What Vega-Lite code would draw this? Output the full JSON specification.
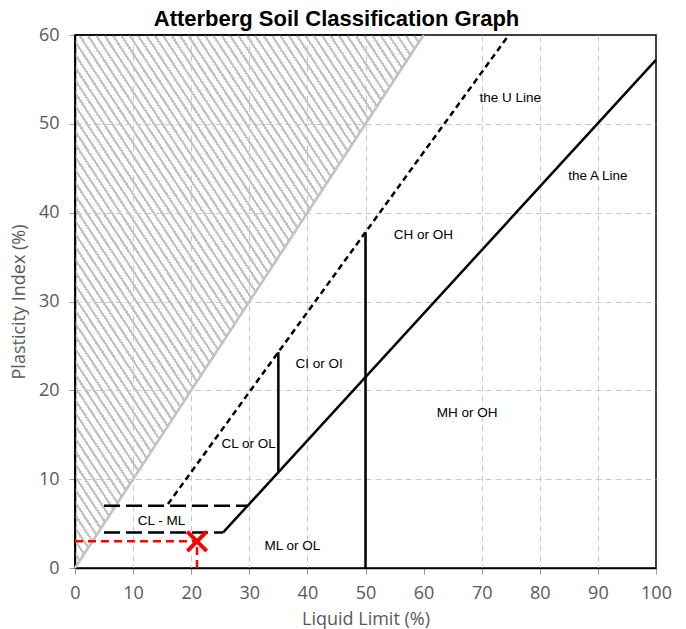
{
"$schema":"https://vega.github.io/schema/vega-lite/v6.json",
"width":581,"height":533,
"autosize":{"type":"none"},
"padding":{"left":75,"top":35,"right":30,"bottom":61},
"background":"white",
"title":{"text":"Atterberg Soil Classification Graph","font":"Liberation Sans","fontSize":22,"fontWeight":"bold","color":"black","offset":6,"anchor":"middle","dx":-29,"dy":11},
"config":{
 "view":{"stroke":"black","strokeWidth":1.5},
 "axis":{"grid":true,"gridDash":[6,4],"gridColor":"#c8c8c8","gridWidth":1,"gridOpacity":{"condition":{"test":"datum.value===0||datum.value===100||datum.value===60","value":0},"value":1},"domainColor":"black","domainWidth":1.5,"tickColor":"#999999","tickSize":6,"labelFont":"Open Sans","labelFontSize":18,"labelColor":"#595959","labelFlush":false,"titleFont":"Open Sans","titleFontSize":18,"titleColor":"#595959","titleFontWeight":"normal","labelPadding":10}
},
"layer":[
{"data":{"values":[{"LL":0,"PI":0,"T":60},{"LL":60,"PI":60,"T":60}]},
 "mark":{"type":"area","stroke":"black","strokeWidth":1.5,"strokeJoin":"bevel","fill":{"gradient":"linear","x1":0,"y1":1,"x2":1,"y2":0,"stops":[
{"offset":0,"color":"#c4c4c4"},{"offset":0.004,"color":"#c4c4c4"},{"offset":0.004,"color":"transparent"},{"offset":0.012,"color":"transparent"},
{"offset":0.012,"color":"#c4c4c4"},{"offset":0.016,"color":"#c4c4c4"},{"offset":0.016,"color":"transparent"},{"offset":0.024,"color":"transparent"},
{"offset":0.024,"color":"#c4c4c4"},{"offset":0.028,"color":"#c4c4c4"},{"offset":0.028,"color":"transparent"},{"offset":0.036,"color":"transparent"},
{"offset":0.036,"color":"#c4c4c4"},{"offset":0.04,"color":"#c4c4c4"},{"offset":0.04,"color":"transparent"},{"offset":0.048,"color":"transparent"},
{"offset":0.048,"color":"#c4c4c4"},{"offset":0.052,"color":"#c4c4c4"},{"offset":0.052,"color":"transparent"},{"offset":0.06,"color":"transparent"},
{"offset":0.06,"color":"#c4c4c4"},{"offset":0.064,"color":"#c4c4c4"},{"offset":0.064,"color":"transparent"},{"offset":0.072,"color":"transparent"},
{"offset":0.072,"color":"#c4c4c4"},{"offset":0.076,"color":"#c4c4c4"},{"offset":0.076,"color":"transparent"},{"offset":0.084,"color":"transparent"},
{"offset":0.084,"color":"#c4c4c4"},{"offset":0.088,"color":"#c4c4c4"},{"offset":0.088,"color":"transparent"},{"offset":0.096,"color":"transparent"},
{"offset":0.096,"color":"#c4c4c4"},{"offset":0.1,"color":"#c4c4c4"},{"offset":0.1,"color":"transparent"},{"offset":0.108,"color":"transparent"},
{"offset":0.108,"color":"#c4c4c4"},{"offset":0.112,"color":"#c4c4c4"},{"offset":0.112,"color":"transparent"},{"offset":0.12,"color":"transparent"},
{"offset":0.12,"color":"#c4c4c4"},{"offset":0.124,"color":"#c4c4c4"},{"offset":0.124,"color":"transparent"},{"offset":0.132,"color":"transparent"},
{"offset":0.132,"color":"#c4c4c4"},{"offset":0.136,"color":"#c4c4c4"},{"offset":0.136,"color":"transparent"},{"offset":0.144,"color":"transparent"},
{"offset":0.144,"color":"#c4c4c4"},{"offset":0.148,"color":"#c4c4c4"},{"offset":0.148,"color":"transparent"},{"offset":0.156,"color":"transparent"},
{"offset":0.156,"color":"#c4c4c4"},{"offset":0.16,"color":"#c4c4c4"},{"offset":0.16,"color":"transparent"},{"offset":0.168,"color":"transparent"},
{"offset":0.168,"color":"#c4c4c4"},{"offset":0.172,"color":"#c4c4c4"},{"offset":0.172,"color":"transparent"},{"offset":0.18,"color":"transparent"},
{"offset":0.18,"color":"#c4c4c4"},{"offset":0.184,"color":"#c4c4c4"},{"offset":0.184,"color":"transparent"},{"offset":0.192,"color":"transparent"},
{"offset":0.192,"color":"#c4c4c4"},{"offset":0.196,"color":"#c4c4c4"},{"offset":0.196,"color":"transparent"},{"offset":0.204,"color":"transparent"},
{"offset":0.204,"color":"#c4c4c4"},{"offset":0.208,"color":"#c4c4c4"},{"offset":0.208,"color":"transparent"},{"offset":0.216,"color":"transparent"},
{"offset":0.216,"color":"#c4c4c4"},{"offset":0.22,"color":"#c4c4c4"},{"offset":0.22,"color":"transparent"},{"offset":0.228,"color":"transparent"},
{"offset":0.228,"color":"#c4c4c4"},{"offset":0.232,"color":"#c4c4c4"},{"offset":0.232,"color":"transparent"},{"offset":0.24,"color":"transparent"},
{"offset":0.24,"color":"#c4c4c4"},{"offset":0.244,"color":"#c4c4c4"},{"offset":0.244,"color":"transparent"},{"offset":0.252,"color":"transparent"},
{"offset":0.252,"color":"#c4c4c4"},{"offset":0.256,"color":"#c4c4c4"},{"offset":0.256,"color":"transparent"},{"offset":0.264,"color":"transparent"},
{"offset":0.264,"color":"#c4c4c4"},{"offset":0.268,"color":"#c4c4c4"},{"offset":0.268,"color":"transparent"},{"offset":0.276,"color":"transparent"},
{"offset":0.276,"color":"#c4c4c4"},{"offset":0.28,"color":"#c4c4c4"},{"offset":0.28,"color":"transparent"},{"offset":0.288,"color":"transparent"},
{"offset":0.288,"color":"#c4c4c4"},{"offset":0.292,"color":"#c4c4c4"},{"offset":0.292,"color":"transparent"},{"offset":0.3,"color":"transparent"},
{"offset":0.3,"color":"#c4c4c4"},{"offset":0.304,"color":"#c4c4c4"},{"offset":0.304,"color":"transparent"},{"offset":0.312,"color":"transparent"},
{"offset":0.312,"color":"#c4c4c4"},{"offset":0.316,"color":"#c4c4c4"},{"offset":0.316,"color":"transparent"},{"offset":0.324,"color":"transparent"},
{"offset":0.324,"color":"#c4c4c4"},{"offset":0.328,"color":"#c4c4c4"},{"offset":0.328,"color":"transparent"},{"offset":0.336,"color":"transparent"},
{"offset":0.336,"color":"#c4c4c4"},{"offset":0.34,"color":"#c4c4c4"},{"offset":0.34,"color":"transparent"},{"offset":0.348,"color":"transparent"},
{"offset":0.348,"color":"#c4c4c4"},{"offset":0.352,"color":"#c4c4c4"},{"offset":0.352,"color":"transparent"},{"offset":0.36,"color":"transparent"},
{"offset":0.36,"color":"#c4c4c4"},{"offset":0.364,"color":"#c4c4c4"},{"offset":0.364,"color":"transparent"},{"offset":0.372,"color":"transparent"},
{"offset":0.372,"color":"#c4c4c4"},{"offset":0.376,"color":"#c4c4c4"},{"offset":0.376,"color":"transparent"},{"offset":0.384,"color":"transparent"},
{"offset":0.384,"color":"#c4c4c4"},{"offset":0.388,"color":"#c4c4c4"},{"offset":0.388,"color":"transparent"},{"offset":0.396,"color":"transparent"},
{"offset":0.396,"color":"#c4c4c4"},{"offset":0.4,"color":"#c4c4c4"},{"offset":0.4,"color":"transparent"},{"offset":0.408,"color":"transparent"},
{"offset":0.408,"color":"#c4c4c4"},{"offset":0.412,"color":"#c4c4c4"},{"offset":0.412,"color":"transparent"},{"offset":0.42,"color":"transparent"},
{"offset":0.42,"color":"#c4c4c4"},{"offset":0.424,"color":"#c4c4c4"},{"offset":0.424,"color":"transparent"},{"offset":0.432,"color":"transparent"},
{"offset":0.432,"color":"#c4c4c4"},{"offset":0.436,"color":"#c4c4c4"},{"offset":0.436,"color":"transparent"},{"offset":0.444,"color":"transparent"},
{"offset":0.444,"color":"#c4c4c4"},{"offset":0.448,"color":"#c4c4c4"},{"offset":0.448,"color":"transparent"},{"offset":0.456,"color":"transparent"},
{"offset":0.456,"color":"#c4c4c4"},{"offset":0.46,"color":"#c4c4c4"},{"offset":0.46,"color":"transparent"},{"offset":0.468,"color":"transparent"},
{"offset":0.468,"color":"#c4c4c4"},{"offset":0.472,"color":"#c4c4c4"},{"offset":0.472,"color":"transparent"},{"offset":0.48,"color":"transparent"},
{"offset":0.48,"color":"#c4c4c4"},{"offset":0.484,"color":"#c4c4c4"},{"offset":0.484,"color":"transparent"},{"offset":0.492,"color":"transparent"},
{"offset":0.492,"color":"#c4c4c4"},{"offset":0.496,"color":"#c4c4c4"},{"offset":0.496,"color":"transparent"},{"offset":0.504,"color":"transparent"},
{"offset":0.504,"color":"#c4c4c4"},{"offset":0.508,"color":"#c4c4c4"},{"offset":0.508,"color":"transparent"},{"offset":0.516,"color":"transparent"},
{"offset":0.516,"color":"#c4c4c4"},{"offset":0.52,"color":"#c4c4c4"},{"offset":0.52,"color":"transparent"},{"offset":0.528,"color":"transparent"},
{"offset":0.528,"color":"#c4c4c4"},{"offset":0.532,"color":"#c4c4c4"},{"offset":0.532,"color":"transparent"},{"offset":0.54,"color":"transparent"},
{"offset":0.54,"color":"#c4c4c4"},{"offset":0.544,"color":"#c4c4c4"},{"offset":0.544,"color":"transparent"},{"offset":0.552,"color":"transparent"},
{"offset":0.552,"color":"#c4c4c4"},{"offset":0.556,"color":"#c4c4c4"},{"offset":0.556,"color":"transparent"},{"offset":0.564,"color":"transparent"},
{"offset":0.564,"color":"#c4c4c4"},{"offset":0.568,"color":"#c4c4c4"},{"offset":0.568,"color":"transparent"},{"offset":0.576,"color":"transparent"},
{"offset":0.576,"color":"#c4c4c4"},{"offset":0.58,"color":"#c4c4c4"},{"offset":0.58,"color":"transparent"},{"offset":0.588,"color":"transparent"},
{"offset":0.588,"color":"#c4c4c4"},{"offset":0.592,"color":"#c4c4c4"},{"offset":0.592,"color":"transparent"},{"offset":0.6,"color":"transparent"},
{"offset":0.6,"color":"#c4c4c4"},{"offset":0.604,"color":"#c4c4c4"},{"offset":0.604,"color":"transparent"},{"offset":0.612,"color":"transparent"},
{"offset":0.612,"color":"#c4c4c4"},{"offset":0.616,"color":"#c4c4c4"},{"offset":0.616,"color":"transparent"},{"offset":0.624,"color":"transparent"},
{"offset":0.624,"color":"#c4c4c4"},{"offset":0.628,"color":"#c4c4c4"},{"offset":0.628,"color":"transparent"},{"offset":0.636,"color":"transparent"},
{"offset":0.636,"color":"#c4c4c4"},{"offset":0.64,"color":"#c4c4c4"},{"offset":0.64,"color":"transparent"},{"offset":0.648,"color":"transparent"},
{"offset":0.648,"color":"#c4c4c4"},{"offset":0.652,"color":"#c4c4c4"},{"offset":0.652,"color":"transparent"},{"offset":0.66,"color":"transparent"},
{"offset":0.66,"color":"#c4c4c4"},{"offset":0.664,"color":"#c4c4c4"},{"offset":0.664,"color":"transparent"},{"offset":0.672,"color":"transparent"},
{"offset":0.672,"color":"#c4c4c4"},{"offset":0.676,"color":"#c4c4c4"},{"offset":0.676,"color":"transparent"},{"offset":0.684,"color":"transparent"},
{"offset":0.684,"color":"#c4c4c4"},{"offset":0.688,"color":"#c4c4c4"},{"offset":0.688,"color":"transparent"},{"offset":0.696,"color":"transparent"},
{"offset":0.696,"color":"#c4c4c4"},{"offset":0.7,"color":"#c4c4c4"},{"offset":0.7,"color":"transparent"},{"offset":0.708,"color":"transparent"},
{"offset":0.708,"color":"#c4c4c4"},{"offset":0.712,"color":"#c4c4c4"},{"offset":0.712,"color":"transparent"},{"offset":0.72,"color":"transparent"},
{"offset":0.72,"color":"#c4c4c4"},{"offset":0.724,"color":"#c4c4c4"},{"offset":0.724,"color":"transparent"},{"offset":0.732,"color":"transparent"},
{"offset":0.732,"color":"#c4c4c4"},{"offset":0.736,"color":"#c4c4c4"},{"offset":0.736,"color":"transparent"},{"offset":0.744,"color":"transparent"},
{"offset":0.744,"color":"#c4c4c4"},{"offset":0.748,"color":"#c4c4c4"},{"offset":0.748,"color":"transparent"},{"offset":0.756,"color":"transparent"},
{"offset":0.756,"color":"#c4c4c4"},{"offset":0.76,"color":"#c4c4c4"},{"offset":0.76,"color":"transparent"},{"offset":0.768,"color":"transparent"},
{"offset":0.768,"color":"#c4c4c4"},{"offset":0.772,"color":"#c4c4c4"},{"offset":0.772,"color":"transparent"},{"offset":0.78,"color":"transparent"},
{"offset":0.78,"color":"#c4c4c4"},{"offset":0.784,"color":"#c4c4c4"},{"offset":0.784,"color":"transparent"},{"offset":0.792,"color":"transparent"},
{"offset":0.792,"color":"#c4c4c4"},{"offset":0.796,"color":"#c4c4c4"},{"offset":0.796,"color":"transparent"},{"offset":0.804,"color":"transparent"},
{"offset":0.804,"color":"#c4c4c4"},{"offset":0.808,"color":"#c4c4c4"},{"offset":0.808,"color":"transparent"},{"offset":0.816,"color":"transparent"},
{"offset":0.816,"color":"#c4c4c4"},{"offset":0.82,"color":"#c4c4c4"},{"offset":0.82,"color":"transparent"},{"offset":0.828,"color":"transparent"},
{"offset":0.828,"color":"#c4c4c4"},{"offset":0.832,"color":"#c4c4c4"},{"offset":0.832,"color":"transparent"},{"offset":0.84,"color":"transparent"},
{"offset":0.84,"color":"#c4c4c4"},{"offset":0.844,"color":"#c4c4c4"},{"offset":0.844,"color":"transparent"},{"offset":0.852,"color":"transparent"},
{"offset":0.852,"color":"#c4c4c4"},{"offset":0.856,"color":"#c4c4c4"},{"offset":0.856,"color":"transparent"},{"offset":0.864,"color":"transparent"},
{"offset":0.864,"color":"#c4c4c4"},{"offset":0.868,"color":"#c4c4c4"},{"offset":0.868,"color":"transparent"},{"offset":0.876,"color":"transparent"},
{"offset":0.876,"color":"#c4c4c4"},{"offset":0.88,"color":"#c4c4c4"},{"offset":0.88,"color":"transparent"},{"offset":0.888,"color":"transparent"},
{"offset":0.888,"color":"#c4c4c4"},{"offset":0.892,"color":"#c4c4c4"},{"offset":0.892,"color":"transparent"},{"offset":0.9,"color":"transparent"},
{"offset":0.9,"color":"#c4c4c4"},{"offset":0.904,"color":"#c4c4c4"},{"offset":0.904,"color":"transparent"},{"offset":0.912,"color":"transparent"},
{"offset":0.912,"color":"#c4c4c4"},{"offset":0.916,"color":"#c4c4c4"},{"offset":0.916,"color":"transparent"},{"offset":0.924,"color":"transparent"},
{"offset":0.924,"color":"#c4c4c4"},{"offset":0.928,"color":"#c4c4c4"},{"offset":0.928,"color":"transparent"},{"offset":0.936,"color":"transparent"},
{"offset":0.936,"color":"#c4c4c4"},{"offset":0.94,"color":"#c4c4c4"},{"offset":0.94,"color":"transparent"},{"offset":0.948,"color":"transparent"},
{"offset":0.948,"color":"#c4c4c4"},{"offset":0.952,"color":"#c4c4c4"},{"offset":0.952,"color":"transparent"},{"offset":0.96,"color":"transparent"},
{"offset":0.96,"color":"#c4c4c4"},{"offset":0.964,"color":"#c4c4c4"},{"offset":0.964,"color":"transparent"},{"offset":0.972,"color":"transparent"},
{"offset":0.972,"color":"#c4c4c4"},{"offset":0.976,"color":"#c4c4c4"},{"offset":0.976,"color":"transparent"},{"offset":0.984,"color":"transparent"},
{"offset":0.984,"color":"#c4c4c4"},{"offset":0.988,"color":"#c4c4c4"},{"offset":0.988,"color":"transparent"},{"offset":0.996,"color":"transparent"},
{"offset":0.996,"color":"#c4c4c4"},{"offset":1,"color":"#c4c4c4"}
 ]}},
 "encoding":{
  "x":{"field":"LL","type":"quantitative","scale":{"domain":[0,100],"nice":false},"axis":{"values":[0,10,20,30,40,50,60,70,80,90,100],"title":"Liquid Limit (%)","titlePadding":8}},
  "y":{"field":"PI","type":"quantitative","scale":{"domain":[0,60],"nice":false},"axis":{"values":[0,10,20,30,40,50,60],"title":"Plasticity Index (%)","titlePadding":10}},
  "y2":{"field":"T"}
 }},
{"data":{"values":[{"LL":0,"PI":0},{"LL":60,"PI":60}]},
 "mark":{"type":"line","color":"#c4c4c4","strokeWidth":2.5},
 "encoding":{"x":{"field":"LL","type":"quantitative"},"y":{"field":"PI","type":"quantitative"}}},
{"data":{"values":[{"id":"A","LL":25.5,"PI":4},{"id":"A","LL":100,"PI":57.2},{"id":"v35","LL":35,"PI":10.8},{"id":"v35","LL":35,"PI":24.3},{"id":"v50","LL":50,"PI":0},{"id":"v50","LL":50,"PI":37.8}]},
 "mark":{"type":"line","color":"black","strokeWidth":2.5},
 "encoding":{"x":{"field":"LL","type":"quantitative"},"y":{"field":"PI","type":"quantitative"},"detail":{"field":"id"}}},
{"data":{"values":[{"id":"d4","LL":5,"PI":4},{"id":"d4","LL":25.5,"PI":4},{"id":"d7","LL":5,"PI":7},{"id":"d7","LL":29.7,"PI":7}]},
 "mark":{"type":"line","color":"black","strokeWidth":2.5,"strokeDash":[16,6]},
 "encoding":{"x":{"field":"LL","type":"quantitative"},"y":{"field":"PI","type":"quantitative"},"detail":{"field":"id"}}},
{"data":{"values":[{"LL":16,"PI":7.2},{"LL":74.67,"PI":60}]},
 "mark":{"type":"line","color":"black","strokeWidth":2.5,"strokeDash":[6,4]},
 "encoding":{"x":{"field":"LL","type":"quantitative"},"y":{"field":"PI","type":"quantitative"}}},
{"data":{"values":[{"id":"h","LL":0,"PI":3},{"id":"h","LL":21,"PI":3},{"id":"v","LL":21,"PI":0},{"id":"v","LL":21,"PI":3}]},
 "mark":{"type":"line","color":"#ff0000","strokeWidth":2.5,"strokeDash":[8,5]},
 "encoding":{"x":{"field":"LL","type":"quantitative"},"y":{"field":"PI","type":"quantitative"},"detail":{"field":"id"}}},
{"data":{"values":[{"LL":21,"PI":3}]},
 "mark":{"type":"point","shape":"M-1,-1L1,1M-1,1L1,-1","size":380,"filled":false,"stroke":"#ff0000","strokeWidth":4,"opacity":1},
 "encoding":{"x":{"field":"LL","type":"quantitative"},"y":{"field":"PI","type":"quantitative"}}},
{"data":{"values":[
 {"LL":74.9,"PI":52.95,"label":"the U Line"},
 {"LL":90,"PI":44.1,"label":"the A Line"},
 {"LL":59.96,"PI":37.5,"label":"CH or OH"},
 {"LL":42,"PI":23,"label":"CI or OI"},
 {"LL":29.9,"PI":13.93,"label":"CL or OL"},
 {"LL":67.5,"PI":17.45,"label":"MH or OH"},
 {"LL":37.4,"PI":2.5,"label":"ML or OL"},
 {"LL":14.9,"PI":5.33,"label":"CL - ML"}]},
 "mark":{"type":"text","font":"Liberation Sans","fontSize":13.5,"color":"black","align":"center","baseline":"middle"},
 "encoding":{"x":{"field":"LL","type":"quantitative"},"y":{"field":"PI","type":"quantitative"},"text":{"field":"label"}}}
]
}
